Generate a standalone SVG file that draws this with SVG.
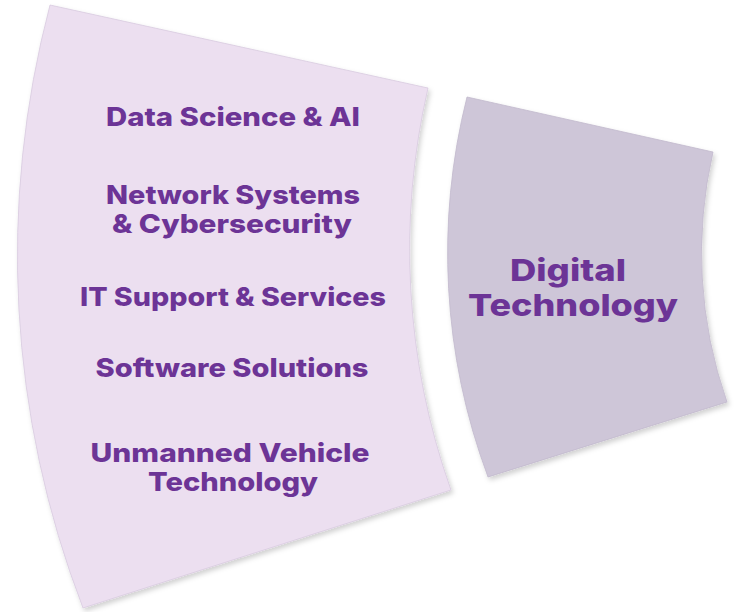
<svg xmlns="http://www.w3.org/2000/svg" width="736" height="612" viewBox="0 0 736 612">
  <defs>
    <filter id="shadow" x="-10%" y="-10%" width="120%" height="120%">
      <feDropShadow dx="2" dy="3" stdDeviation="2.5" flood-color="#000000" flood-opacity="0.18"/>
    </filter>
    <style>
      .lbl { font-family: "Inter", "Open Sans", "Liberation Sans", sans-serif; font-weight: 800; fill: #6c3496; text-anchor: middle; }
      .small { font-size: 26px; }
      .big { font-size: 30px; }
    </style>
  </defs>
  <rect width="736" height="612" fill="#ffffff"/>

  <g id="sectors-panel">
    <path d="M50,5 L428,88 A720,720 0 0,0 451,490 L83,608 A980,980 0 0,1 50,5 Z" fill="#ecdff0" stroke="#d8cadf" stroke-width="0.8" filter="url(#shadow)"/>
    <text class="lbl small" x="233" y="126" textLength="254" lengthAdjust="spacingAndGlyphs">Data Science &amp; AI</text>
    <text class="lbl small" x="233" y="204" textLength="254" lengthAdjust="spacingAndGlyphs">Network Systems</text>
    <text class="lbl small" x="232" y="233" textLength="240" lengthAdjust="spacingAndGlyphs">&amp; Cybersecurity</text>
    <text class="lbl small" x="233" y="306" textLength="306" lengthAdjust="spacingAndGlyphs">IT Support &amp; Services</text>
    <text class="lbl small" x="232" y="377" textLength="273" lengthAdjust="spacingAndGlyphs">Software Solutions</text>
    <text class="lbl small" x="230" y="462" textLength="279" lengthAdjust="spacingAndGlyphs">Unmanned Vehicle</text>
    <text class="lbl small" x="233" y="491" textLength="170" lengthAdjust="spacingAndGlyphs">Technology</text>
  </g>

  <g id="digital-technology">
    <path d="M467,97 L713,152 A450,450 0 0,0 727,402 L488,477 A640,640 0 0,1 467,97 Z" fill="#cec6d8" stroke="#c2b9cd" stroke-width="0.8" filter="url(#shadow)"/>
    <text class="lbl big" x="568" y="281" textLength="116" lengthAdjust="spacingAndGlyphs">Digital</text>
    <text class="lbl big" x="573" y="316" textLength="210" lengthAdjust="spacingAndGlyphs">Technology</text>
  </g>

  <g id="connectors"></g>
</svg>
